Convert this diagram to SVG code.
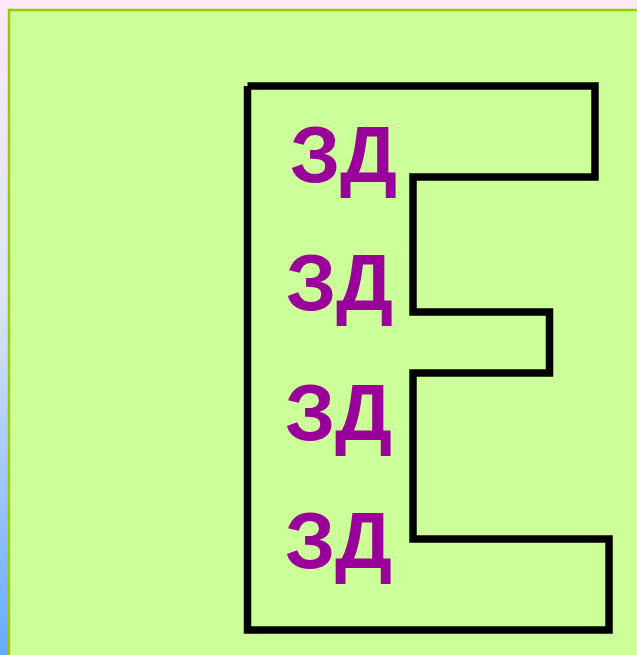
<svg xmlns="http://www.w3.org/2000/svg" width="637" height="655" viewBox="0 0 637 655">
<defs>
<linearGradient id="bg" x1="0" y1="0" x2="0" y2="1">
<stop offset="0" stop-color="#FCE8F8"/>
<stop offset="0.45" stop-color="#DDE4FA"/>
<stop offset="1" stop-color="#66AAFF"/>
</linearGradient>
</defs>
<style>
.lbl{font-family:"Liberation Sans","DejaVu Sans",sans-serif;font-weight:bold;font-size:80px;fill:#990099}
.e{fill:none;stroke:#000;stroke-width:7.5;stroke-linejoin:miter}
</style>
<rect x="0" y="0" width="637" height="655" fill="url(#bg)"/>
<rect x="9" y="10" width="640" height="660" fill="#CCFF99" stroke="#99CC00" stroke-width="2.5"/>
<g id="shape">
<polyline class="e" points="247.5,86 595,86 595,177 413,177 413,312 549.5,312 549.5,373 413,373 413,539 609,539 609,630 247.5,630 247.5,86"/>
</g>
<g id="labels">
<text class="lbl" x="290" y="182">ЗД</text>
<text class="lbl" x="286" y="310">ЗД</text>
<text class="lbl" x="285" y="440">ЗД</text>
<text class="lbl" x="285" y="568">ЗД</text>
</g>
</svg>
